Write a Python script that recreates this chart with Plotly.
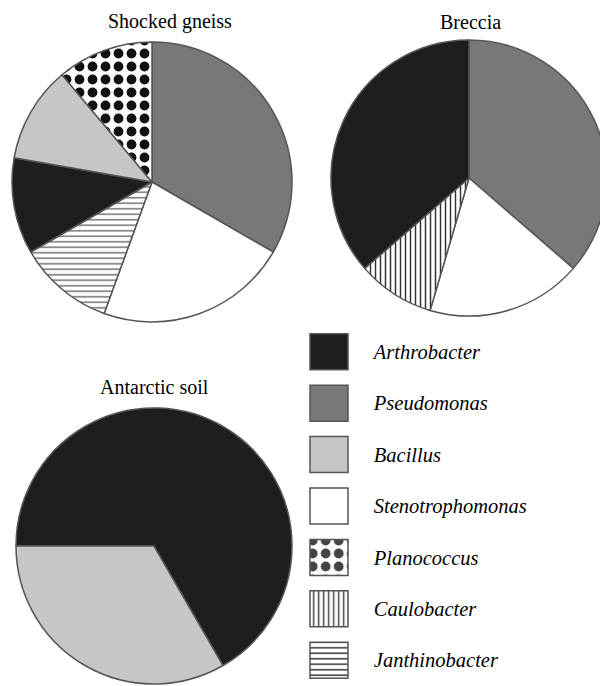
import plotly.graph_objects as go

# ---- data -------------------------------------------------------------
slice_order = ["Pseudomonas", "Stenotrophomonas", "Janthinobacter", "Caulobacter",
               "Arthrobacter", "Bacillus", "Planococcus"]
gneiss_counts = [3, 2, 1, 0, 1, 1, 1]
breccia_counts = [4, 2, 0, 1, 4, 0, 0]
antarctic_counts = [0, 0, 0, 0, 2, 1, 0]

site_titles = ["Shocked gneiss", "Breccia", "Antarctic soil"]

legend_order = ["Arthrobacter", "Pseudomonas", "Bacillus", "Stenotrophomonas",
                "Planococcus", "Caulobacter", "Janthinobacter"]
legend_key = [1, 1, 1, 1, 1, 1, 1]

# ---- styles -----------------------------------------------------------
fill = {"Arthrobacter": "#1e1e1e", "Pseudomonas": "#787878", "Bacillus": "#c6c6c6",
        "Stenotrophomonas": "#ffffff", "Planococcus": "#ffffff",
        "Caulobacter": "#ffffff", "Janthinobacter": "#ffffff"}
pshape = {"Arthrobacter": "", "Pseudomonas": "", "Bacillus": "", "Stenotrophomonas": "",
          "Planococcus": ".", "Caulobacter": "|", "Janthinobacter": "-"}
psize = {"Arthrobacter": 8, "Pseudomonas": 8, "Bacillus": 8, "Stenotrophomonas": 8,
         "Planococcus": 13, "Caulobacter": 5, "Janthinobacter": 5.5}
psolid = {"Arthrobacter": 0.3, "Pseudomonas": 0.3, "Bacillus": 0.3, "Stenotrophomonas": 0.3,
          "Planococcus": 0.45, "Caulobacter": 0.3, "Janthinobacter": 0.3}
pfg = {"Arthrobacter": "#000", "Pseudomonas": "#000", "Bacillus": "#000",
       "Stenotrophomonas": "#000", "Planococcus": "#111111",
       "Caulobacter": "#333333", "Janthinobacter": "#808080"}

# the page body adds an 8px offset, so the figure is laid out 8px smaller
OFF = 8
W, H = 608 - OFF, 686 - OFF
SERIF = "Liberation Serif, Times New Roman, serif"


def dom_x(a, b):
    return [(a - OFF) / W, (b - OFF) / W]


def dom_y(top, bottom):
    return [1 - (bottom - OFF) / H, 1 - (top - OFF) / H]


fig = go.Figure()


def add_pie(counts, dx, dy, rotation):
    labs = [c for c, v in zip(slice_order, counts) if v > 0]
    vals = [v for v in counts if v > 0]
    fig.add_trace(go.Pie(
        labels=labs, values=vals, sort=False, direction="clockwise",
        rotation=rotation, textinfo="none", hoverinfo="label+percent",
        showlegend=False,
        domain=dict(x=dx, y=dy),
        marker=dict(
            colors=[fill[c] for c in labs],
            line=dict(color="#555555", width=1.5),
            pattern=dict(shape=[pshape[c] for c in labs],
                         size=[psize[c] for c in labs],
                         solidity=[psolid[c] for c in labs],
                         fgcolor=[pfg[c] for c in labs],
                         fgopacity=1,
                         fillmode="overlay"),
        ),
    ))


add_pie(gneiss_counts, dom_x(12, 292), dom_y(42, 322), 0)
add_pie(breccia_counts, dom_x(331, 607), dom_y(40, 316), 0)
add_pie(antarctic_counts, dom_x(16, 292), dom_y(408, 684), 270)

# ---- legend drawn as patterned key bars -------------------------------
fig.add_trace(go.Bar(
    orientation="h", y=legend_order, x=legend_key, base=0, width=0.7,
    xaxis="x", yaxis="y", showlegend=False, hoverinfo="y",
    marker=dict(
        color=[fill[c] for c in legend_order],
        line=dict(color="#555555", width=1.5),
        pattern=dict(shape=[pshape[c] for c in legend_order],
                     size=[psize[c] for c in legend_order],
                     solidity=[psolid[c] for c in legend_order],
                     fgcolor=[pfg[c] for c in legend_order],
                     fgopacity=1,
                     fillmode="overlay"),
    ),
))


def px(x):
    return (x - OFF) / W


def py(y):
    return 1 - (y - OFF) / H


annos = [
    dict(text=site_titles[0], x=px(170), y=py(22)),
    dict(text=site_titles[1], x=px(471), y=py(22)),
    dict(text=site_titles[2], x=px(154), y=py(387)),
]
for a in annos:
    a.update(xref="paper", yref="paper", xanchor="center", yanchor="middle",
             showarrow=False, font=dict(family=SERIF, size=20, color="#000000"))

fig.update_layout(
    width=W, height=H, margin=dict(l=0, r=0, t=0, b=0),
    paper_bgcolor="white", plot_bgcolor="white",
    annotations=annos,
    xaxis=dict(domain=dom_x(306.2, 351.8), range=[-0.1, 1.1], visible=False,
               fixedrange=True),
    yaxis=dict(domain=dom_y(326, 686), range=[6.5, -0.5], side="right",
               showgrid=False, zeroline=False, showline=False, ticks="",
               ticklabelstandoff=21, fixedrange=True,
               tickfont=dict(family=SERIF, size=20.5, style="italic", color="#000000")),
    bargap=0.3,
)

fig.write_html("out.html")
